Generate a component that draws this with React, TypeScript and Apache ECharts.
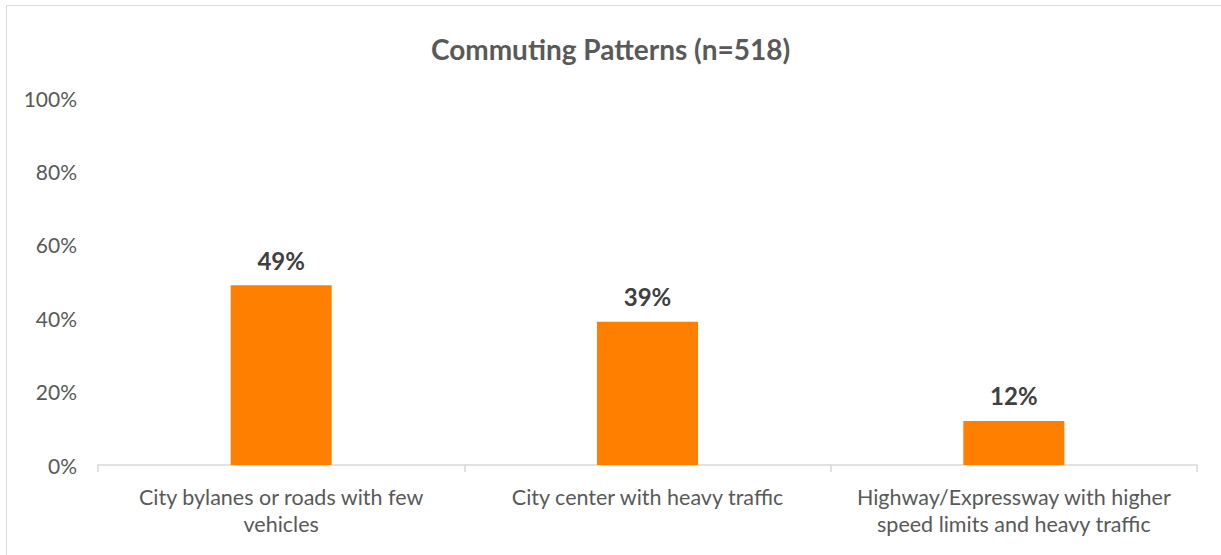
import React, { useEffect, useRef } from "react";
import * as echarts from "echarts";

const categories = [
  "City bylanes or roads with few\nvehicles",
  "City center with heavy traffic",
  "Highway/Expressway with higher\nspeed limits and heavy traffic",
];
const values = [49, 39, 12];
const yTicks = [0, 20, 40, 60, 80, 100];

export default function App() {
  const ref = useRef<HTMLDivElement>(null);
  useEffect(() => {
    if (!ref.current) return;
    const chart = echarts.init(ref.current, undefined, { renderer: "svg" });
    chart.setOption({
      animation: false,
      backgroundColor: "#ffffff",
      textStyle: { fontFamily: "Lato, 'Open Sans', sans-serif" },
      title: {
        text: "Commuting Patterns (n=518)",
        left: "center",
        top: 30,
        textStyle: { fontSize: 28, fontWeight: "bold", color: "#595959", fontFamily: "Lato, sans-serif" },
      },
      graphic: [
        {
          type: "rect",
          shape: { x: 6.5, y: 5.5, width: 1400, height: 700 },
          style: { fill: "none", stroke: "#d9d9d9", lineWidth: 1 },
          silent: true,
        },
      ],
      grid: { left: 98, right: 24, top: 98, bottom: 90, containLabel: false },
      xAxis: {
        type: "category",
        data: categories,
        axisLine: { lineStyle: { color: "#d9d9d9", width: 1.5 } },
        axisTick: { show: true, length: 7, alignWithLabel: false, lineStyle: { color: "#d9d9d9", width: 1.5 } },
        axisLabel: {
          color: "#595959",
          fontSize: 21.5,
          lineHeight: 27,
          margin: 18,
          interval: 0,
          fontFamily: "Lato, sans-serif",
        },
      },
      yAxis: {
        type: "value",
        min: yTicks[0],
        max: yTicks[yTicks.length - 1],
        interval: 20,
        axisLine: { show: false },
        axisTick: { show: false },
        splitLine: { show: false },
        axisLabel: {
          color: "#595959",
          fontSize: 21,
          margin: 21,
          formatter: (v: number) => `${v}%`,
          fontFamily: "Lato, sans-serif",
        },
      },
      series: [
        {
          type: "bar",
          data: values,
          barWidth: 101,
          itemStyle: { color: "#ff7f00" },
          label: {
            show: true,
            position: "top",
            distance: 13,
            formatter: (p: any) => `${p.value}%`,
            color: "#404040",
            fontSize: 24,
            fontWeight: "bold",
            fontFamily: "Lato, sans-serif",
          },
        },
      ],
    });
    return () => chart.dispose();
  }, []);
  return (
    <div
      ref={ref}
      style={{ position: "absolute", left: 0, top: 0, width: 1221, height: 555 }}
    />
  );
}
